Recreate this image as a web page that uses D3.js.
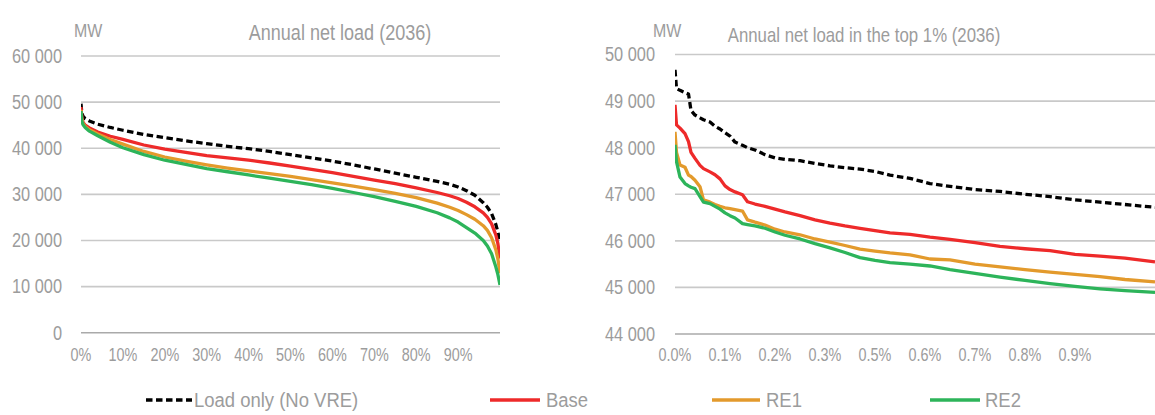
<!DOCTYPE html>
<html>
<head>
<meta charset="utf-8">
<script src="https://cdn.jsdelivr.net/npm/d3@7"></script>
<style>
  html, body { margin: 0; padding: 0; background: #ffffff; }
  svg { display: block; font-family: "Liberation Sans", Arial, sans-serif; }
</style>
</head>
<body>
<svg id="chart" width="1155" height="415"></svg>
<script>
// ---- Annual duration curve: share of hours (%) vs net load (MW) ----
const annualShare = [0, 0.2, 0.5, 1, 2, 4, 7, 10, 15, 20, 25, 30, 35, 40, 45, 50, 55, 60, 65, 70, 75, 80, 85, 88, 90, 92, 94, 96, 97, 98, 99, 99.5, 100];
const annualLoadOnly = [49670, 47600, 46900, 46400, 45900, 45200, 44500, 43900, 43000, 42300, 41600, 41000, 40400, 39900, 39300, 38600, 37900, 37200, 36400, 35500, 34600, 33700, 32800, 32200, 31600, 30800, 29800, 28200, 27200, 25800, 23500, 21800, 19500];
const annualBase     = [48920, 46500, 45600, 45000, 44400, 43500, 42600, 41900, 40700, 39800, 39100, 38400, 37900, 37400, 36800, 36100, 35400, 34700, 33900, 33100, 32300, 31400, 30400, 29700, 29100, 28300, 27300, 26000, 25000, 23600, 21200, 19300, 16100];
const annualRE1      = [48340, 46200, 45300, 44700, 44000, 43100, 41900, 40900, 39300, 38100, 37200, 36400, 35700, 35100, 34500, 33900, 33200, 32500, 31800, 31000, 30200, 29300, 28100, 27200, 26500, 25600, 24600, 23200, 22200, 20600, 18000, 16000, 12900];
const annualRE2      = [48060, 45900, 45100, 44500, 43700, 42700, 41300, 40100, 38600, 37400, 36500, 35600, 34900, 34200, 33500, 32800, 32100, 31300, 30400, 29500, 28500, 27400, 26000, 24900, 24000, 22800, 21600, 20000, 18800, 17100, 14300, 12600, 10350];

// ---- Top 1% of hours: hour rank vs net load (MW) ----
const topHours    = [0, 0.3, 1, 2, 2.7, 3.2, 4, 5, 5.7, 7, 8, 9, 10, 11, 12, 13.5, 14.5, 16, 18, 20, 22, 25, 28, 31, 34, 37, 40, 43, 47, 51, 55, 60, 65, 70, 75, 80, 85, 90, 96];
const topLoadOnly = [49670, 49270, 49230, 49180, 49150, 48800, 48700, 48640, 48600, 48550, 48460, 48400, 48320, 48250, 48120, 48050, 48000, 47950, 47850, 47780, 47750, 47720, 47660, 47610, 47570, 47540, 47490, 47410, 47340, 47230, 47170, 47100, 47060, 47000, 46950, 46880, 46830, 46780, 46720];
const topBase     = [48920, 48490, 48420, 48300, 48130, 47900, 47770, 47620, 47550, 47480, 47420, 47330, 47180, 47100, 47050, 46990, 46840, 46790, 46740, 46680, 46620, 46540, 46450, 46380, 46320, 46270, 46220, 46170, 46140, 46080, 46030, 45960, 45880, 45830, 45790, 45710, 45670, 45630, 45550];
const topRE1      = [48340, 47900, 47630, 47580, 47410, 47380, 47300, 47160, 46880, 46830, 46780, 46740, 46710, 46690, 46670, 46640, 46450, 46400, 46340, 46250, 46190, 46130, 46040, 45970, 45900, 45820, 45780, 45740, 45700, 45610, 45590, 45500, 45440, 45380, 45330, 45280, 45230, 45170, 45120];
const topRE2      = [48060, 47700, 47370, 47230, 47180, 47150, 47120, 46950, 46830, 46800, 46740, 46680, 46600, 46540, 46490, 46370, 46350, 46320, 46270, 46190, 46120, 46040, 45940, 45850, 45750, 45640, 45580, 45530, 45500, 45460, 45380, 45300, 45220, 45150, 45080, 45020, 44970, 44930, 44895];

// ---- Axis labels ----
const annualTicks      = [0, 10, 20, 30, 40, 50, 60, 70, 80, 90];
const annualTickLabels = ["0%", "10%", "20%", "30%", "40%", "50%", "60%", "70%", "80%", "90%"];
const annualYTicks     = [0, 10000, 20000, 30000, 40000, 50000, 60000];
const topTicks         = [0, 10, 20, 30, 40, 50, 60, 70, 80];
const topTickLabels    = ["0.0%", "0.1%", "0.2%", "0.3%", "0.5%", "0.6%", "0.7%", "0.8%", "0.9%"];
const topYTicks        = [44000, 45000, 46000, 47000, 48000, 49000, 50000];

const seriesNames = ["Load only (No VRE)", "Base", "RE1", "RE2"];
const seriesColors = ["#000000", "#ee2a2a", "#e39a2c", "#2db45a"];

const TEXT = "#9c9c9c";
const GRID = "#c9c9c9";
const BASELINE = "#aaaaaa";
const SQUEEZE = 0.84;

const svg = d3.select("#chart");
const fmt = v => d3.format(",")(v).replace(/,/g, " ");

function label(g, x, y, text, size, anchor, squeeze) {
  const s = squeeze || SQUEEZE;
  return g.append("text")
    .attr("transform", `translate(${x},${y}) scale(${s},1)`)
    .attr("text-anchor", anchor)
    .attr("dy", "0.35em")
    .attr("font-size", size)
    .attr("fill", TEXT)
    .text(text);
}

function panel(cfg) {
  const g = svg.append("g");
  const x = d3.scaleLinear().domain(cfg.xDomain).range(cfg.xRange);
  const y = d3.scaleLinear().domain(cfg.yDomain).range(cfg.yRange);

  // horizontal gridlines with value labels
  cfg.yTicks.forEach((t, i) => {
    g.append("line")
      .attr("x1", cfg.xRange[0]).attr("x2", cfg.xRange[1])
      .attr("y1", y(t)).attr("y2", y(t))
      .attr("stroke", i === 0 ? BASELINE : GRID)
      .attr("stroke-width", 1.6);
    label(g, cfg.yLabelX, y(t), fmt(t), 19.5, "end");
  });

  // category labels along the bottom
  cfg.xTicks.forEach((t, i) => label(g, x(t), cfg.xLabelY, cfg.xLabels[i], 18, "middle", 0.8));

  // unit and title
  label(g, cfg.unitX, cfg.unitY, "MW", 19, "start");
  label(g, cfg.titleX, cfg.titleY, cfg.title, cfg.titleSize, "middle");

  // series
  const clipId = "clip" + cfg.id;
  svg.append("clipPath").attr("id", clipId).append("rect")
    .attr("x", cfg.xRange[0]).attr("y", 0)
    .attr("width", cfg.xRange[1] - cfg.xRange[0]).attr("height", 415);
  const line = d3.line().x(d => x(d[0])).y(d => y(d[1]));
  const lines = g.append("g").attr("clip-path", `url(#${clipId})`);
  cfg.series.forEach((vals, i) => {
    lines.append("path")
      .datum(cfg.xs.map((v, k) => [v, vals[k]]))
      .attr("d", line)
      .attr("fill", "none")
      .attr("stroke", seriesColors[i])
      .attr("stroke-width", 3.3)
      .attr("stroke-linejoin", "round")
      .attr("stroke-dasharray", i === 0 ? "6.5,3.5" : null);
  });
}

panel({
  id: "A",
  xDomain: [0, 100], xRange: [81, 500],
  yDomain: [0, 60000], yRange: [332.7, 56],
  xs: annualShare,
  series: [annualLoadOnly, annualBase, annualRE1, annualRE2],
  yTicks: annualYTicks, yLabelX: 62,
  xTicks: annualTicks, xLabels: annualTickLabels, xLabelY: 355,
  unitX: 74, unitY: 30,
  title: "Annual net load (2036)", titleSize: 21.5, titleX: 340, titleY: 32
});

panel({
  id: "B",
  xDomain: [0, 96], xRange: [675, 1155],
  yDomain: [44000, 50000], yRange: [334, 54.5],
  xs: topHours,
  series: [topLoadOnly, topBase, topRE1, topRE2],
  yTicks: topYTicks, yLabelX: 655,
  xTicks: topTicks, xLabels: topTickLabels, xLabelY: 355,
  unitX: 653, unitY: 30,
  title: "Annual net load in the top 1% (2036)", titleSize: 20, titleX: 864, titleY: 35
});

// legend
const legendItems = [
  { x1: 146, x2: 192, tx: 194 },
  { x1: 490, x2: 540, tx: 546 },
  { x1: 712, x2: 760, tx: 766 },
  { x1: 930, x2: 980, tx: 985 }
];
const lg = svg.append("g");
legendItems.forEach((it, i) => {
  lg.append("line")
    .attr("x1", it.x1).attr("x2", it.x2).attr("y1", 400).attr("y2", 400)
    .attr("stroke", seriesColors[i]).attr("stroke-width", 3.3)
    .attr("stroke-dasharray", i === 0 ? "6.5,3.5" : null);
  label(lg, it.tx, 400, seriesNames[i], 21, "start", 0.88);
});
</script>
</body>
</html>
